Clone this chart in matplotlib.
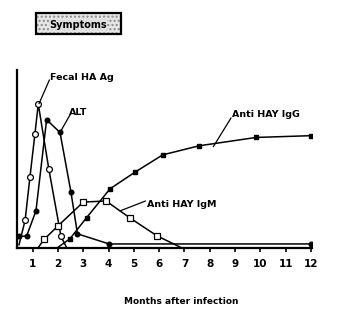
import matplotlib
matplotlib.use("Agg")
import matplotlib.pyplot as plt
from matplotlib.patches import Rectangle

# ---- data (months after infection, relative level 0-100) ----
fecal_months = [0.46, 0.70, 0.89, 1.09, 1.22, 1.64, 2.12, 2.34]
fecal_vals = [1.5, 15.3, 39.5, 64.1, 80.9, 44.0, 6.2, 0.0]

alt_months = [0.46, 0.76, 1.13, 1.55, 2.08, 2.51, 2.77, 4.02, 12.0]
alt_vals = [6.3, 6.4, 20.7, 72.0, 64.8, 31.4, 7.7, 2.0, 2.0]

igm_months = [1.22, 1.46, 2.01, 3.00, 3.90, 4.85, 5.91, 6.86]
igm_vals = [0.0, 4.7, 12.3, 25.6, 26.2, 16.6, 6.6, 0.0]

igg_months = [1.99, 2.47, 3.13, 4.06, 5.04, 6.14, 7.58, 9.83, 12.0]
igg_vals = [0.0, 4.9, 16.8, 33.1, 42.4, 52.2, 57.3, 62.0, 63.0]

xticks = list(range(1, 13))
xtick_labels = [str(m) for m in xticks]

W, H = 347, 324
fig = plt.figure(figsize=(W / 100, H / 100), dpi=100)
fig.patch.set_facecolor("white")


def fx(px):
    return px / W


def fy(py):
    return 1 - py / H


ax = fig.add_axes([fx(17), fy(247.5), fx(312) - fx(17), fy(70) - fy(247.5)])
ax.set_xlim(0.38, 12.04)
ax.set_ylim(0, 100)

lw = 1.1
ax.plot(fecal_months, fecal_vals, color="black", lw=lw, marker="o", ms=4.2,
        mfc="white", mec="black", mew=0.9, markevery=list(range(1, 7)))
ax.plot(alt_months, alt_vals, color="black", lw=lw, marker="o", ms=3.3,
        mfc="black", mec="black")
ax.plot(igm_months, igm_vals, color="black", lw=lw, marker="s", ms=3.8,
        mfc="white", mec="black", mew=0.9, markevery=list(range(1, 7)))
ax.plot(igg_months, igg_vals, color="black", lw=lw, marker="s", ms=3.3,
        mfc="black", mec="black", markevery=list(range(1, 9)))

for s in ["top", "right"]:
    ax.spines[s].set_visible(False)
ax.spines["left"].set_linewidth(1.6)
ax.spines["bottom"].set_linewidth(1.6)
ax.set_yticks([])
ax.set_xticks(xticks)
ax.set_xticklabels(xtick_labels, fontsize=7.5, fontweight="bold")
ax.tick_params(axis="x", direction="out", length=3, width=1.2, pad=5)

tfont = dict(fontsize=6.8, fontweight="bold", va="center", ha="left")
leader = dict(arrowstyle="-", shrinkA=0, shrinkB=0, lw=0.9, color="black")

ax.text(1.68, 96.0, "Fecal HA Ag", **tfont)
ax.annotate("", xy=(1.25, 81.0), xytext=(1.66, 94.4), arrowprops=leader)

ax.text(2.45, 76.3, "ALT", **tfont)
ax.annotate("", xy=(2.08, 64.8), xytext=(2.47, 74.6), arrowprops=leader)

ax.text(8.86, 75.2, "Anti HAY IgG", **tfont)
ax.annotate("", xy=(8.14, 56.8), xytext=(8.84, 73.0), arrowprops=leader)

ax.text(5.5, 24.3, "Anti HAY IgM", **tfont)
ax.annotate("", xy=(4.45, 20.6), xytext=(5.46, 26.2), arrowprops=leader)

# Symptoms box (stippled fill + black border)
bx, by = fx(36), fy(34)
bw, bh = fx(120.7) - fx(36), fy(13.3) - fy(34)
fill = Rectangle((bx, by), bw, bh, transform=fig.transFigure,
                 facecolor="#e6e6e6", edgecolor="#8a8a8a", lw=0, hatch="....")
fig.add_artist(fill)
border = Rectangle((bx, by), bw, bh, transform=fig.transFigure,
                   facecolor="none", edgecolor="black", lw=1.6)
fig.add_artist(border)
fig.text(fx(78), fy(24.5), "Symptoms", fontsize=7, fontweight="bold",
         ha="center", va="center",
         bbox=dict(facecolor="#e0e0e0", edgecolor="none", pad=0.3))

fig.text(fx(181.7), fy(301.7), "Months after infection", fontsize=6.5,
         fontweight="bold", ha="center", va="center")

fig.savefig("out.png", dpi=100, facecolor="white")
